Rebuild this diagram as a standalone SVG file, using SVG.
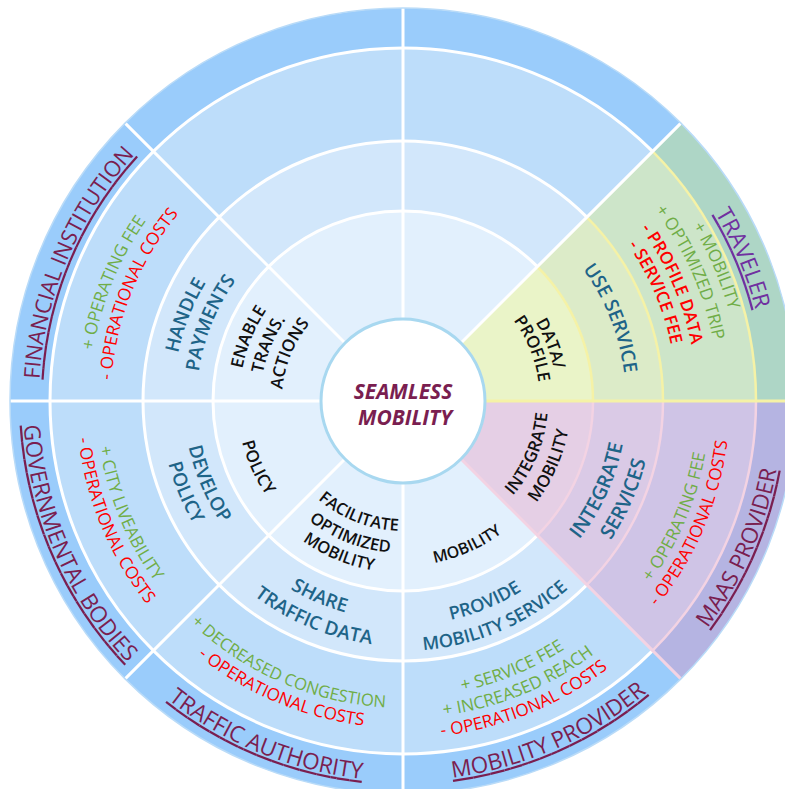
<svg xmlns="http://www.w3.org/2000/svg" width="785" height="789" viewBox="0 0 785 789">
<style>
text{font-family:'Open Sans','Noto Sans','DejaVu Sans',sans-serif;text-anchor:middle}
.actor{font-size:22.5px;fill:#7A1E50;text-decoration:underline}
.trav{fill:#7030A0}
.val{font-size:17.2px}
.g{fill:#70AD47}
.r{fill:#FF0000}
.b{font-weight:600}
.act{font-size:19px;font-weight:600;fill:#1E6488}
.core{font-size:17px;font-weight:600;fill:#111111}
.ring{stroke:#FFFFFF;stroke-width:3}
.sep{stroke:#FFFFFF;stroke-width:3;fill:none}
.ysep{stroke:#F5F2A6;stroke-width:2.5;fill:none}
.psep{stroke:#F3D3E3;stroke-width:2.5;fill:none}
.centre{font-size:21px;font-weight:700;font-style:italic;fill:#7A1E50}
</style>
<defs>
<path id="u364" d="M44.5 337.8 A364 364 0 0 1 761.5 337.8"/>
<path id="u338" d="M70.1 342.3 A338 338 0 0 1 735.9 342.3"/>
<path id="u316" d="M91.8 346.1 A316 316 0 0 1 714.2 346.1"/>
<path id="u314" d="M93.8 346.5 A314 314 0 0 1 712.2 346.5"/>
<path id="u294" d="M113.5 350 A294 294 0 0 1 692.5 350"/>
<path id="u292" d="M115.4 350.3 A292 292 0 0 1 690.6 350.3"/>
<path id="u274" d="M133.2 353.4 A274 274 0 0 1 672.8 353.4"/>
<path id="u230" d="M176.5 361.1 A230 230 0 0 1 629.5 361.1"/>
<path id="u223" d="M183.4 362.3 A223 223 0 0 1 622.6 362.3"/>
<path id="u206" d="M200.1 365.2 A206 206 0 0 1 605.9 365.2"/>
<path id="u164" d="M241.5 372.5 A164 164 0 0 1 564.5 372.5"/>
<path id="u154" d="M251.3 374.3 A154 154 0 0 1 554.7 374.3"/>
<path id="u143" d="M262.2 376.2 A143 143 0 0 1 543.8 376.2"/>
<path id="u137" d="M268.1 377.2 A137 137 0 0 1 537.9 377.2"/>
<path id="u121" d="M283.8 380 A121 121 0 0 1 522.2 380"/>
<path id="d380" d="M28.8 467 A380 380 0 0 0 777.2 467"/>
<path id="d337" d="M71.1 459.5 A337 337 0 0 0 734.9 459.5"/>
<path id="d327" d="M81 457.8 A327 327 0 0 0 725 457.8"/>
<path id="d317" d="M90.8 456 A317 317 0 0 0 715.2 456"/>
<path id="d307" d="M100.7 454.3 A307 307 0 0 0 705.3 454.3"/>
<path id="d296" d="M111.5 452.4 A296 296 0 0 0 694.5 452.4"/>
<path id="d250" d="M156.8 444.4 A250 250 0 0 0 649.2 444.4"/>
<path id="d245" d="M161.7 443.5 A245 245 0 0 0 644.3 443.5"/>
<path id="d243" d="M163.7 443.2 A243 243 0 0 0 642.3 443.2"/>
<path id="d224" d="M182.4 439.9 A224 224 0 0 0 623.6 439.9"/>
<path id="d219" d="M187.3 439 A219 219 0 0 0 618.7 439"/>
<path id="d172" d="M233.6 430.9 A172 172 0 0 0 572.4 430.9"/>
<path id="d168" d="M237.6 430.2 A168 168 0 0 0 568.4 430.2"/>
<path id="d166" d="M239.5 429.8 A166 166 0 0 0 566.5 429.8"/>
<path id="d165" d="M240.5 429.6 A165 165 0 0 0 565.5 429.6"/>
<path id="d152" d="M253.3 427.4 A152 152 0 0 0 552.7 427.4"/>
<path id="d145" d="M260.2 426.2 A145 145 0 0 0 545.8 426.2"/>
<path id="d130" d="M275 423.6 A130 130 0 0 0 531 423.6"/>
</defs>

<g id="rings">
<circle cx="403" cy="401" r="393" fill="#9ACCFB"/>
<circle cx="403" cy="401" r="353" fill="#BDDDFA" class="ring"/>
<circle cx="403" cy="401" r="260" fill="#D2E7FB" class="ring"/>
<circle cx="403" cy="401" r="190" fill="#E2F0FD" class="ring"/>
</g>

<g id="traveler-sector">
<path d="M403 401 L796 401 A393 393 0 0 0 680.9 123.1 Z" fill="#AED6C6"/>
<path d="M403 401 L756 401 A353 353 0 0 0 652.6 151.4 Z" fill="#CDE5C9"/>
<path d="M403 401 L663 401 A260 260 0 0 0 586.8 217.2 Z" fill="#DCEBC8"/>
<path d="M403 401 L593 401 A190 190 0 0 0 537.3 266.7 Z" fill="#EAF4C8"/>
<path class="ysep" d="M756 401 A353 353 0 0 0 652.6 151.4 M663 401 A260 260 0 0 0 586.8 217.2 M593 401 A190 190 0 0 0 537.3 266.7"/>
</g>

<g id="maas-sector">
<path d="M403 401 L796 401 A393 393 0 0 1 680.9 678.9 Z" fill="#B5B4E2"/>
<path d="M403 401 L756 401 A353 353 0 0 1 652.6 650.6 Z" fill="#CFC4E6"/>
<path d="M403 401 L663 401 A260 260 0 0 1 586.8 584.8 Z" fill="#DACAE6"/>
<path d="M403 401 L593 401 A190 190 0 0 1 537.3 535.3 Z" fill="#E5CFE5"/>
<path class="psep" d="M756 401 A353 353 0 0 1 652.6 650.6 M663 401 A260 260 0 0 1 586.8 584.8 M593 401 A190 190 0 0 1 537.3 535.3"/>
</g>

<g id="connectors">
<path class="sep" d="M403 319 L403 8 M345 343 L125.1 123.1 M321 401 L10 401 M345 459 L125.1 678.9 M403 483 L403 794 M461 343 L680.9 123.1"/>
<path class="psep" style="stroke-width:3" d="M461 459 L680.9 678.9"/>
<path class="ysep" style="stroke-width:3" d="M485 401 L796 401"/>
</g>

<circle cx="403" cy="401" r="393" fill="none" stroke="#B9DBF8" stroke-width="1.5"/>

<g id="financial-institution">
<text class="actor" style="font-size:22px" transform="rotate(-67 403 401)"><textPath href="#u364" startOffset="50%">FINANCIAL INSTITUTION</textPath></text>
<text class="val g" transform="rotate(-67.8 403 401)"><textPath href="#u314" startOffset="50%">+ OPERATING FEE</textPath></text>
<text class="val r" transform="rotate(-68 403 401)"><textPath href="#u292" startOffset="50%">- OPERATIONAL COSTS</textPath></text>
<text class="act" transform="rotate(-68.5 403 401)"><textPath href="#u230" startOffset="50%">HANDLE</textPath></text>
<text class="act" transform="rotate(-68 403 401)"><textPath href="#u206" startOffset="50%">PAYMENTS</textPath></text>
<text class="core" transform="rotate(-67.5 403 401)"><textPath href="#u164" startOffset="50%">ENABLE</textPath></text>
<text class="core" transform="rotate(-67 403 401)"><textPath href="#u143" startOffset="50%">TRANS.</textPath></text>
<text class="core" transform="rotate(-67.4 403 401)"><textPath href="#u121" startOffset="50%">ACTIONS</textPath></text>
</g>

<g id="traveler">
<text class="actor trav" transform="rotate(67.2 403 401)"><textPath href="#u364" startOffset="50%">TRAVELER</textPath></text>
<text class="val g" transform="rotate(66.6 403 401)"><textPath href="#u338" startOffset="50%">+ MOBILITY</textPath></text>
<text class="val g" transform="rotate(65.9 403 401)"><textPath href="#u316" startOffset="50%">+ OPTIMIZED TRIP</textPath></text>
<text class="val r b" transform="rotate(66.5 403 401)"><textPath href="#u294" startOffset="50%">- PROFILE DATA</textPath></text>
<text class="val r b" transform="rotate(66.7 403 401)"><textPath href="#u274" startOffset="50%">- SERVICE FEE</textPath></text>
<text class="act" transform="rotate(68.3 403 401)"><textPath href="#u223" startOffset="50%">USE SERVICE</textPath></text>
<text class="core" transform="rotate(68.7 403 401)"><textPath href="#u154" startOffset="50%">DATA/</textPath></text>
<text class="core" transform="rotate(68 403 401)"><textPath href="#u137" startOffset="50%">PROFILE</textPath></text>
</g>

<g id="governmental-bodies">
<text class="actor" transform="rotate(66.4 403 401)"><textPath href="#d380" startOffset="50%">GOVERNMENTAL BODIES</textPath></text>
<text class="val g" transform="rotate(67.7 403 401)"><textPath href="#d307" startOffset="50%">+ CITY LIVEABILITY</textPath></text>
<text class="val r" transform="rotate(67.5 403 401)"><textPath href="#d327" startOffset="50%">- OPERATIONAL COSTS</textPath></text>
<text class="act" transform="rotate(67 403 401)"><textPath href="#d219" startOffset="50%">DEVELOP</textPath></text>
<text class="act" transform="rotate(67.3 403 401)"><textPath href="#d243" startOffset="50%">POLICY</textPath></text>
<text class="core" transform="rotate(65.5 403 401)"><textPath href="#d166" startOffset="50%">POLICY</textPath></text>
</g>

<g id="traffic-authority">
<text class="actor" transform="rotate(22.2 403 401)"><textPath href="#d380" startOffset="50%">TRAFFIC AUTHORITY</textPath></text>
<text class="val g" style="font-size:16.7px" transform="rotate(23.5 403 401)"><textPath href="#d307" startOffset="50%">+ DECREASED CONGESTION</textPath></text>
<text class="val r" transform="rotate(22.9 403 401)"><textPath href="#d327" startOffset="50%">- OPERATIONAL COSTS</textPath></text>
<text class="act" transform="rotate(23.1 403 401)"><textPath href="#d219" startOffset="50%">SHARE</textPath></text>
<text class="act" transform="rotate(22.4 403 401)"><textPath href="#d245" startOffset="50%">TRAFFIC DATA</textPath></text>
<text class="core" style="font-size:16.5px" transform="rotate(21.4 403 401)"><textPath href="#d130" startOffset="50%">FACILITATE</textPath></text>
<text class="core" style="font-size:16.5px" transform="rotate(21.6 403 401)"><textPath href="#d152" startOffset="50%">OPTIMIZED</textPath></text>
<text class="core" style="font-size:16.5px" transform="rotate(22.8 403 401)"><textPath href="#d172" startOffset="50%">MOBILITY</textPath></text>
</g>

<g id="mobility-provider">
<text class="actor" transform="rotate(-23.7 403 401)"><textPath href="#d380" startOffset="50%">MOBILITY PROVIDER</textPath></text>
<text class="val g" transform="rotate(-22.3 403 401)"><textPath href="#d296" startOffset="50%">+ SERVICE FEE</textPath></text>
<text class="val g" transform="rotate(-22.2 403 401)"><textPath href="#d317" startOffset="50%">+ INCREASED REACH</textPath></text>
<text class="val r" transform="rotate(-22 403 401)"><textPath href="#d337" startOffset="50%">- OPERATIONAL COSTS</textPath></text>
<text class="act" style="font-size:18.2px" transform="rotate(-22.2 403 401)"><textPath href="#d224" startOffset="50%">PROVIDE</textPath></text>
<text class="act" style="font-size:18.2px" transform="rotate(-23 403 401)"><textPath href="#d250" startOffset="50%">MOBILITY SERVICE</textPath></text>
<text class="core" style="font-size:16px" transform="rotate(-24 403 401)"><textPath href="#d165" startOffset="50%">MOBILITY</textPath></text>
</g>

<g id="maas-provider">
<text class="actor" transform="rotate(-66.4 403 401)"><textPath href="#d380" startOffset="50%">MAAS PROVIDER</textPath></text>
<text class="val g" transform="rotate(-67 403 401)"><textPath href="#d307" startOffset="50%">+ OPERATING FEE</textPath></text>
<text class="val r" transform="rotate(-67 403 401)"><textPath href="#d327" startOffset="50%">- OPERATIONAL COSTS</textPath></text>
<text class="act" style="font-size:19.8px" transform="rotate(-65.4 403 401)"><textPath href="#d224" startOffset="50%">INTEGRATE</textPath></text>
<text class="act" style="font-size:19.8px" transform="rotate(-66.2 403 401)"><textPath href="#d250" startOffset="50%">SERVICES</textPath></text>
<text class="core" transform="rotate(-67.2 403 401)"><textPath href="#d145" startOffset="50%">INTEGRATE</textPath></text>
<text class="core" transform="rotate(-66.3 403 401)"><textPath href="#d168" startOffset="50%">MOBILITY</textPath></text>
</g>

<g id="seamless-mobility">
<circle cx="403" cy="401" r="82" fill="#FFFFFF" stroke="#A8D8F0" stroke-width="3"/>
<text class="centre" x="403" y="399">SEAMLESS</text>
<text class="centre" x="405" y="425">MOBILITY</text>
</g>
</svg>
